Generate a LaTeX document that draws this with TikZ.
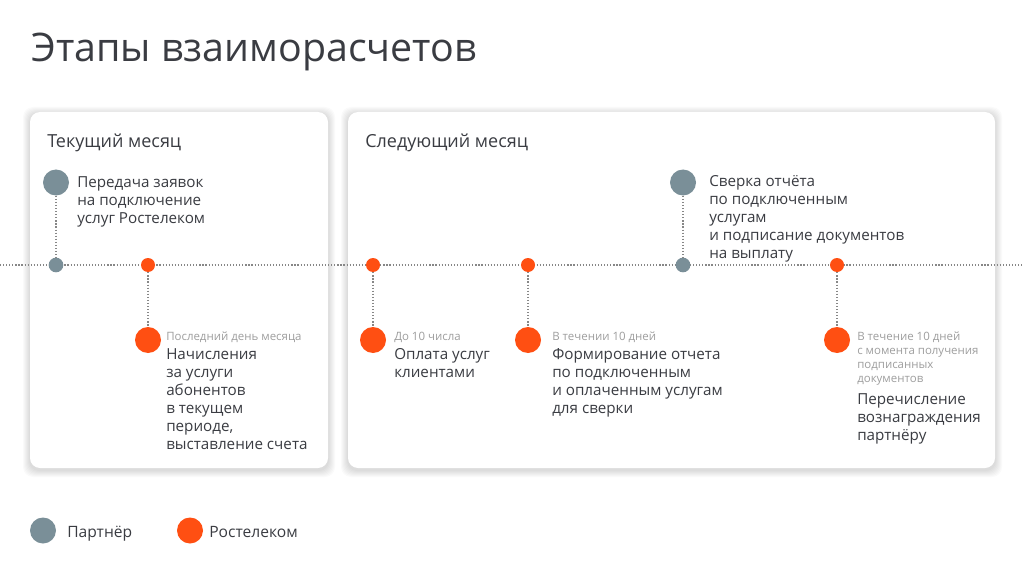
\documentclass[tikz,border=0pt]{standalone}
\usepackage{fontspec}
\setmainfont{Open Sans}
\usetikzlibrary{positioning}
\definecolor{partner}{RGB}{122,143,152}
\definecolor{rtk}{RGB}{255,79,18}
\definecolor{ink}{RGB}{58,60,66}
\definecolor{hintgray}{RGB}{158,158,158}
\definecolor{dotgray}{RGB}{135,135,135}
\tikzset{
  card/.style ={fill=white, rounded corners=7.5pt},
  haze/.style ={fill=black, fill opacity=0.018, rounded corners=7.5pt},
  bigp/.style ={circle, fill=partner, minimum size=19.5pt, inner sep=0pt},
  bigr/.style ={circle, fill=rtk, minimum size=19.5pt, inner sep=0pt},
  dotp/.style ={circle, fill=partner, minimum size=11pt, inner sep=0pt},
  dotr/.style ={circle, fill=rtk, minimum size=10.5pt, inner sep=0pt},
  txt/.style  ={anchor=north west, align=left, inner sep=0pt, text=ink,
                font=\fontsize{11.4}{13.6}\selectfont},
  hint/.style ={anchor=north west, align=left, inner sep=0pt, text=hintgray,
                font=\fontsize{8.6}{10.5}\selectfont},
  head/.style ={anchor=base west, inner sep=0pt, text=ink,
                font=\fontsize{13.5}{16}\selectfont},
  link/.style ={draw=dotgray, line width=0.9pt, dash pattern=on 0.9pt off 1.4pt},
}

\begin{document}
\begin{tikzpicture}[x=0.75pt,y=-0.75pt]
\path[fill=white] (0,0) rectangle (1024,574);
\useasboundingbox (0,0) rectangle (1024,574);

\node[anchor=base west,inner sep=0pt,text=ink,font=\fontsize{29.5}{35}\selectfont] (title) at (31,62) {Этапы взаиморасчетов};

% months
\foreach \s in {1,...,7} {
  \path[haze] (30-\s,112-\s+2) rectangle (328+\s,468+\s+2);
  \path[haze] (348-\s,112-\s+2) rectangle (995+\s,468+\s+2);
}
\path[card] (30,112) rectangle (328,468);
\path[card] (348,112) rectangle (995,468);
\node[head] (cur) at (47,148) {Текущий месяц};
\node[head] (next) at (365,148) {Следующий месяц};

% timeline
\coordinate (tl-w) at (0,265);
\coordinate (tl-e) at (1024,265);
\draw[link] (tl-w) -- (tl-e);

\node[dotp] (p1dot) at (56,265) {};
\node[dotr] (r1dot) at (148,265) {};
\node[dotr] (r2dot) at (373,265) {};
\node[dotr] (r3dot) at (528,265) {};
\node[dotp] (p2dot) at (683,265) {};
\node[dotr] (r4dot) at (837,265) {};

\node[bigp] (p1big) at (56,182.5) {};
\node[bigr] (r1big) at (148,340) {};
\node[bigr] (r2big) at (373,340) {};
\node[bigr] (r3big) at (528,340) {};
\node[bigp] (p2big) at (683,182.5) {};
\node[bigr] (r4big) at (837,340) {};

\draw[link] (p1big) -- (p1dot);
\draw[link] (r1dot) -- (r1big);
\draw[link] (r2dot) -- (r2big);
\draw[link] (r3dot) -- (r3big);
\draw[link] (p2big) -- (p2dot);
\draw[link] (r4dot) -- (r4big);

% steps
\node[txt] (p1txt) at (77,176) {Передача заявок\\на подключение\\услуг Ростелеком};
\node[hint] (r1hint) at (166,332) {Последний день месяца};
\node[txt] (r1txt) at (166,348) {Начисления\\за услуги\\абонентов\\в текущем\\периоде,\\выставление счета};
\node[hint] (r2hint) at (394,332) {До 10 числа};
\node[txt] (r2txt) at (394,348) {Оплата услуг\\клиентами};
\node[hint] (r3hint) at (552,332) {В течении 10 дней};
\node[txt] (r3txt) at (552,348) {Формирование отчета\\по подключенным\\и оплаченным услугам\\для сверки};
\node[txt] (p2txt) at (709,175) {Сверка отчёта\\по подключенным\\услугам\\и подписание документов\\на выплату};
\node[hint] (r4hint) at (857,332) {В течение 10 дней\\с момента получения\\подписанных\\документов};
\node[txt] (r4txt) at (857,393) {Перечисление\\вознаграждения\\партнёру};

% legend
\node[bigp] (lgp) at (43,530.5) {};
\node[head,font=\fontsize{11.7}{14}\selectfont] (lgptxt) at (67,537) {Партнёр};
\node[bigr] (lgr) at (190,530.5) {};
\node[head,font=\fontsize{11.7}{14}\selectfont] (lgrtxt) at (209,537) {Ростелеком};
\end{tikzpicture}
\end{document}
